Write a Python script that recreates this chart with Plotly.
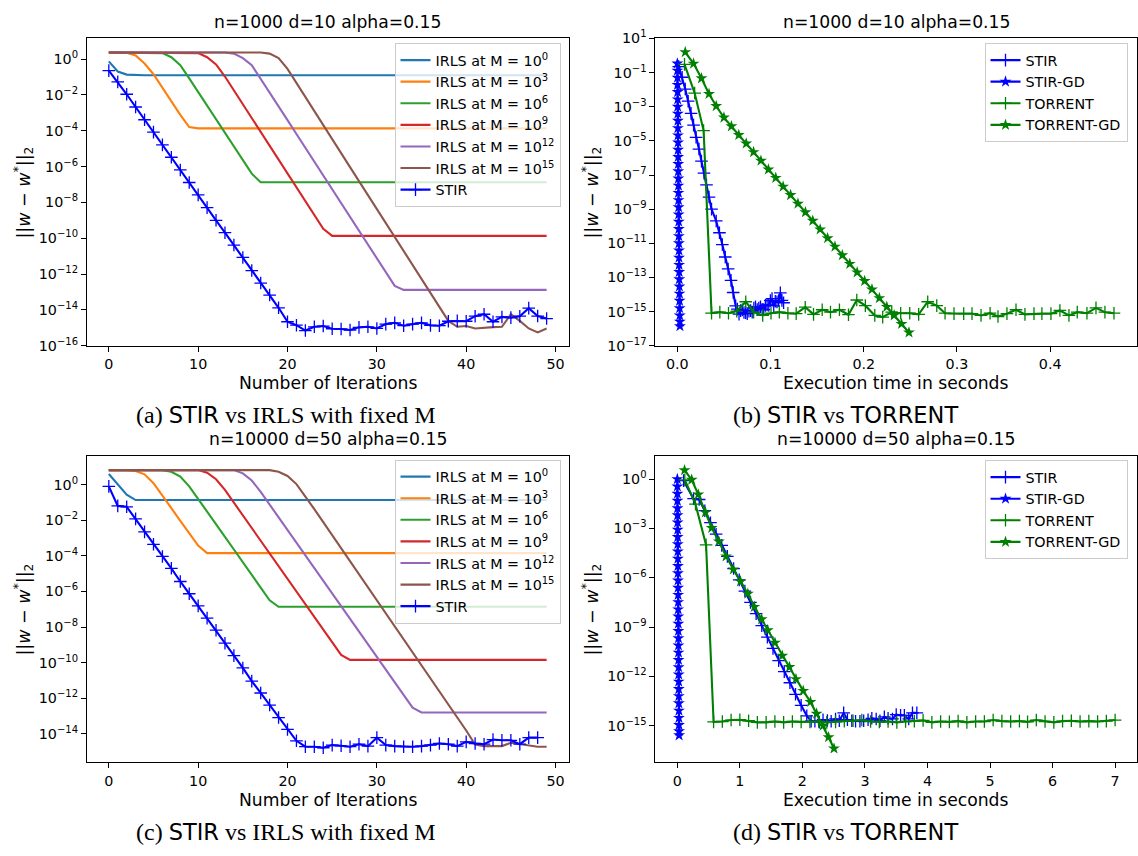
import plotly.graph_objects as go

# ---------------------------------------------------------------------------
# Panel (a): n=1000, d=10 -- error vs iteration for IRLS with fixed M and STIR
# ---------------------------------------------------------------------------
iters_a = list(range(50))

a_irls_m0 = [0.74, 0.20, 0.135, 0.123, 0.123, 0.123, 0.123, 0.123, 0.123, 0.123,
             0.123, 0.123, 0.123, 0.123, 0.123, 0.123, 0.123, 0.123, 0.123, 0.123,
             0.123, 0.123, 0.123, 0.123, 0.123, 0.123, 0.123, 0.123, 0.123, 0.123,
             0.123, 0.123, 0.123, 0.123, 0.123, 0.123, 0.123, 0.123, 0.123, 0.123,
             0.123, 0.123, 0.123, 0.123, 0.123, 0.123, 0.123, 0.123, 0.123, 0.123]
a_irls_m3 = [2.31, 2.31, 2.25, 1.58, 0.56, 0.141, 0.0245, 4.37e-3, 7.6e-4, 1.58e-4,
             1.35e-4, 1.35e-4, 1.35e-4, 1.35e-4, 1.35e-4, 1.35e-4, 1.35e-4, 1.35e-4, 1.35e-4, 1.35e-4,
             1.35e-4, 1.35e-4, 1.35e-4, 1.35e-4, 1.35e-4, 1.35e-4, 1.35e-4, 1.35e-4, 1.35e-4, 1.35e-4,
             1.35e-4, 1.35e-4, 1.35e-4, 1.35e-4, 1.35e-4, 1.35e-4, 1.35e-4, 1.35e-4, 1.35e-4, 1.35e-4,
             1.35e-4, 1.35e-4, 1.35e-4, 1.35e-4, 1.35e-4, 1.35e-4, 1.35e-4, 1.35e-4, 1.35e-4, 1.35e-4]
a_irls_m6 = [2.31, 2.31, 2.31, 2.31, 2.31, 2.31, 2.14, 1.26, 0.447, 0.083,
             0.0145, 2.5e-3, 4.4e-4, 7.6e-5, 1.32e-5, 2.3e-6, 4.0e-7, 1.32e-7, 1.32e-7, 1.32e-7,
             1.32e-7, 1.32e-7, 1.32e-7, 1.32e-7, 1.32e-7, 1.32e-7, 1.32e-7, 1.32e-7, 1.32e-7, 1.32e-7,
             1.32e-7, 1.32e-7, 1.32e-7, 1.32e-7, 1.32e-7, 1.32e-7, 1.32e-7, 1.32e-7, 1.32e-7, 1.32e-7,
             1.32e-7, 1.32e-7, 1.32e-7, 1.32e-7, 1.32e-7, 1.32e-7, 1.32e-7, 1.32e-7, 1.32e-7, 1.32e-7]
a_irls_m9 = [2.31, 2.31, 2.31, 2.31, 2.31, 2.31, 2.31, 2.31, 2.31, 2.31,
             2.14, 1.26, 0.5, 0.105, 0.0178, 3.0e-3, 5.0e-4, 8.5e-5, 1.41e-5, 2.4e-6,
             4.0e-7, 6.8e-8, 1.12e-8, 1.9e-9, 3.4e-10, 1.35e-10, 1.35e-10, 1.35e-10, 1.35e-10, 1.35e-10,
             1.35e-10, 1.35e-10, 1.35e-10, 1.35e-10, 1.35e-10, 1.35e-10, 1.35e-10, 1.35e-10, 1.35e-10, 1.35e-10,
             1.35e-10, 1.35e-10, 1.35e-10, 1.35e-10, 1.35e-10, 1.35e-10, 1.35e-10, 1.35e-10, 1.35e-10, 1.35e-10]
a_irls_m12 = [2.31, 2.31, 2.31, 2.31, 2.31, 2.31, 2.31, 2.31, 2.31, 2.31,
              2.31, 2.31, 2.31, 2.31, 2.0, 1.12, 0.447, 0.079, 0.0135, 2.3e-3,
              3.9e-4, 6.5e-5, 1.1e-5, 1.86e-6, 3.1e-7, 5.2e-8, 8.9e-9, 1.48e-9, 2.5e-10, 4.3e-11,
              7.1e-12, 1.2e-12, 2.2e-13, 1.32e-13, 1.32e-13, 1.32e-13, 1.32e-13, 1.32e-13, 1.32e-13, 1.32e-13,
              1.32e-13, 1.32e-13, 1.32e-13, 1.32e-13, 1.32e-13, 1.32e-13, 1.32e-13, 1.32e-13, 1.32e-13, 1.32e-13]
a_irls_m15 = [2.31, 2.31, 2.31, 2.31, 2.31, 2.31, 2.31, 2.31, 2.31, 2.31,
              2.31, 2.31, 2.31, 2.31, 2.31, 2.31, 2.31, 2.31, 2.0, 1.12,
              0.28, 0.045, 7.4e-3, 1.23e-3, 2.0e-4, 3.4e-5, 5.6e-6, 9.3e-7, 1.55e-7, 2.6e-8,
              4.3e-9, 7.1e-10, 1.17e-10, 1.95e-11, 3.2e-12, 5.4e-13, 8.9e-14, 1.48e-14, 2.45e-15, 1.15e-15,
              1.26e-15, 9.3e-16, 1.06e-15, 1.1e-15, 1.15e-15, 5.7e-15, 2.45e-15, 9.3e-16, 5.6e-16, 9.3e-16]
a_stir = [2.24e-1, 5.31e-2, 1.08e-2, 2.10e-3, 4.09e-4, 8.3e-5, 1.62e-5, 3.31e-6, 6.46e-7, 1.29e-7,
          2.63e-8, 5.13e-9, 1.0e-9, 2.04e-10, 4.17e-11, 8.5e-12, 1.58e-12, 3.16e-13, 6.76e-14, 1.32e-14,
          2.19e-15, 1.41e-15, 7.1e-16, 1.15e-15, 1.26e-15, 8.9e-16, 8.7e-16, 7.6e-16, 1.07e-15, 1.15e-15,
          9.3e-16, 1.62e-15, 1.91e-15, 1.32e-15, 1.62e-15, 1.91e-15, 1.38e-15, 1.32e-15, 2.34e-15, 2.45e-15,
          2.34e-15, 4.47e-15, 5.75e-15, 2.19e-15, 4.07e-15, 3.72e-15, 4.47e-15, 1.26e-14, 4.57e-15, 3.31e-15]

# ---------------------------------------------------------------------------
# Panel (b): n=1000, d=10 -- error vs wall-clock time (STIR reuses a_stir)
# ---------------------------------------------------------------------------
b_stir_t = [0.0015, 0.0052, 0.0085, 0.0116, 0.0147, 0.0174, 0.0201, 0.0232, 0.0259, 0.0286,
            0.0313, 0.0340, 0.0367, 0.0417, 0.0452, 0.0483, 0.0514, 0.0545, 0.0576, 0.0599,
            0.0626, 0.0644, 0.0662, 0.0679, 0.0697, 0.0715, 0.0733, 0.0750, 0.0768, 0.0786,
            0.0803, 0.0821, 0.0839, 0.0857, 0.0874, 0.0892, 0.0910, 0.0927, 0.0945, 0.0963,
            0.0981, 0.0998, 0.1016, 0.1034, 0.1051, 0.1069, 0.1087, 0.1105, 0.1122, 0.1140]
b_stirgd_t = [0.0000, 0.0001, 0.0002, 0.0002, 0.0003, 0.0004, 0.0004, 0.0005, 0.0006, 0.0006,
              0.0007, 0.0008, 0.0008, 0.0009, 0.0010, 0.0010, 0.0011, 0.0012, 0.0012, 0.0013,
              0.0014, 0.0014, 0.0015, 0.0016, 0.0016, 0.0017, 0.0018, 0.0018, 0.0019, 0.0020,
              0.0021, 0.0022, 0.0023, 0.0024, 0.0025, 0.0026, 0.0027, 0.0028]
b_stirgd = [0.34, 0.13, 0.050, 0.019, 7.2e-3, 2.7e-3, 1.0e-3, 3.9e-4, 1.5e-4, 5.6e-5,
            2.1e-5, 8.0e-6, 3.0e-6, 1.15e-6, 4.4e-7, 1.65e-7, 6.2e-8, 2.4e-8, 9.0e-9, 3.4e-9,
            1.3e-9, 4.9e-10, 1.85e-10, 7.0e-11, 2.65e-11, 1.0e-11, 3.8e-12, 1.45e-12, 5.5e-13, 2.1e-13,
            7.9e-14, 3.0e-14, 1.14e-14, 4.3e-15, 1.6e-15, 6.0e-16, 2.6e-16, 1.4e-16]
b_torrent_t = [0.0077, 0.0186, 0.0282, 0.0367, 0.0456, 0.0549, 0.0638, 0.0734, 0.0819, 0.0916,
               0.1005, 0.1094, 0.1186, 0.1275, 0.1372, 0.1461, 0.1554, 0.1643, 0.1739, 0.1836,
               0.1925, 0.2017, 0.2118, 0.2203, 0.2300, 0.2396, 0.2493, 0.2589, 0.2686, 0.2783,
               0.2872, 0.2968, 0.3072, 0.3161, 0.3258, 0.3355, 0.3440, 0.3536, 0.3633, 0.3729,
               0.3826, 0.3911, 0.4008, 0.4104, 0.4201, 0.4290, 0.4394, 0.4491, 0.4587, 0.4684]
b_torrent = [0.30, 6.3e-3, 4.0e-5, 8.1e-16, 9.3e-16, 8.1e-16, 1.07e-15, 3.8e-15, 9.3e-16, 6.0e-16,
             8.1e-16, 9.3e-16, 8.1e-16, 7.6e-16, 1.82e-15, 6.9e-16, 1.29e-15, 9.3e-16, 1.29e-15, 6.6e-16,
             4.8e-15, 2.24e-15, 6.0e-16, 4.8e-16, 9.3e-16, 8.1e-16, 8.1e-16, 6.9e-16, 3.8e-15, 2.24e-15,
             8.1e-16, 7.6e-16, 7.6e-16, 7.6e-16, 6.0e-16, 8.1e-16, 5.2e-16, 7.6e-16, 1.29e-15, 6.9e-16,
             7.6e-16, 7.6e-16, 7.6e-16, 1.17e-15, 6.0e-16, 9.3e-16, 8.1e-16, 1.66e-15, 9.3e-16, 8.1e-16]
b_torrentgd_t = [0.0085, 0.0174, 0.0259, 0.0340, 0.0417, 0.0500, 0.0580, 0.0659, 0.0739, 0.0818,
                 0.0897, 0.0977, 0.1056, 0.1135, 0.1215, 0.1294, 0.1374, 0.1453, 0.1532, 0.1612,
                 0.1691, 0.1770, 0.1850, 0.1929, 0.2009, 0.2088, 0.2167, 0.2247, 0.2326, 0.2405,
                 0.2485]
b_torrentgd = [1.57, 0.335, 0.0461, 5.6e-3, 1.09e-3, 2.32e-4, 7.1e-5, 2.2e-5, 7.0e-6, 2.2e-6,
               6.9e-7, 2.1e-7, 6.8e-8, 2.1e-8, 6.7e-9, 2.1e-9, 6.6e-10, 2.1e-10, 6.5e-11, 2.0e-11,
               6.4e-12, 2.0e-12, 6.3e-13, 2.0e-13, 6.2e-14, 2.0e-14, 6.2e-15, 1.9e-15, 6.1e-16, 1.9e-16,
               6.0e-17]

# ---------------------------------------------------------------------------
# Panel (c): n=10000, d=50 -- error vs iteration
# ---------------------------------------------------------------------------
iters_c = list(range(50))
iters_c_stir = list(range(49))

c_irls_m0 = [4.0, 1.12, 0.28, 0.138, 0.138, 0.138, 0.138, 0.138, 0.138, 0.138,
             0.138, 0.138, 0.138, 0.138, 0.138, 0.138, 0.138, 0.138, 0.138, 0.138,
             0.138, 0.138, 0.138, 0.138, 0.138, 0.138, 0.138, 0.138, 0.138, 0.138,
             0.138, 0.138, 0.138, 0.138, 0.138, 0.138, 0.138, 0.138, 0.138, 0.138,
             0.138, 0.138, 0.138, 0.138, 0.138, 0.138, 0.138, 0.138, 0.138, 0.138]
c_irls_m3 = [6.67, 6.67, 6.67, 5.9, 3.85, 1.23, 0.26, 0.048, 9.3e-3, 1.73e-3,
             3.8e-4, 1.43e-4, 1.43e-4, 1.43e-4, 1.43e-4, 1.43e-4, 1.43e-4, 1.43e-4, 1.43e-4, 1.43e-4,
             1.43e-4, 1.43e-4, 1.43e-4, 1.43e-4, 1.43e-4, 1.43e-4, 1.43e-4, 1.43e-4, 1.43e-4, 1.43e-4,
             1.43e-4, 1.43e-4, 1.43e-4, 1.43e-4, 1.43e-4, 1.43e-4, 1.43e-4, 1.43e-4, 1.43e-4, 1.43e-4,
             1.43e-4, 1.43e-4, 1.43e-4, 1.43e-4, 1.43e-4, 1.43e-4, 1.43e-4, 1.43e-4, 1.43e-4, 1.43e-4]
c_irls_m6 = [6.67, 6.67, 6.67, 6.67, 6.67, 6.67, 6.67, 5.4, 2.87, 0.81,
             0.163, 0.0316, 6.1e-3, 1.18e-3, 2.28e-4, 4.4e-5, 8.5e-6, 1.65e-6, 3.18e-7, 1.37e-7,
             1.37e-7, 1.37e-7, 1.37e-7, 1.37e-7, 1.37e-7, 1.37e-7, 1.37e-7, 1.37e-7, 1.37e-7, 1.37e-7,
             1.37e-7, 1.37e-7, 1.37e-7, 1.37e-7, 1.37e-7, 1.37e-7, 1.37e-7, 1.37e-7, 1.37e-7, 1.37e-7,
             1.37e-7, 1.37e-7, 1.37e-7, 1.37e-7, 1.37e-7, 1.37e-7, 1.37e-7, 1.37e-7, 1.37e-7, 1.37e-7]
c_irls_m9 = [6.67, 6.67, 6.67, 6.67, 6.67, 6.67, 6.67, 6.67, 6.67, 6.67,
             6.67, 4.75, 2.05, 0.51, 0.0985, 0.019, 3.68e-3, 7.1e-4, 1.38e-4, 2.66e-5,
             5.1e-6, 9.9e-7, 1.92e-7, 3.7e-8, 7.2e-9, 1.39e-9, 2.68e-10, 1.42e-10, 1.42e-10, 1.42e-10,
             1.42e-10, 1.42e-10, 1.42e-10, 1.42e-10, 1.42e-10, 1.42e-10, 1.42e-10, 1.42e-10, 1.42e-10, 1.42e-10,
             1.42e-10, 1.42e-10, 1.42e-10, 1.42e-10, 1.42e-10, 1.42e-10, 1.42e-10, 1.42e-10, 1.42e-10, 1.42e-10]
c_irls_m12 = [6.67, 6.67, 6.67, 6.67, 6.67, 6.67, 6.67, 6.67, 6.67, 6.67,
              6.67, 6.67, 6.67, 6.67, 6.67, 4.37, 1.73, 0.396, 0.0765, 0.0148,
              2.86e-3, 5.5e-4, 1.07e-4, 2.06e-5, 3.99e-6, 7.7e-7, 1.49e-7, 2.88e-8, 5.6e-9, 1.08e-9,
              2.08e-10, 4.0e-11, 7.8e-12, 1.5e-12, 2.9e-13, 1.55e-13, 1.55e-13, 1.55e-13, 1.55e-13, 1.55e-13,
              1.55e-13, 1.55e-13, 1.55e-13, 1.55e-13, 1.55e-13, 1.55e-13, 1.55e-13, 1.55e-13, 1.55e-13, 1.55e-13]
c_irls_m15 = [6.67, 6.67, 6.67, 6.67, 6.67, 6.67, 6.67, 6.67, 6.67, 6.67,
              6.67, 6.67, 6.67, 6.67, 6.67, 6.67, 6.67, 6.67, 6.67, 5.4,
              3.12, 1.09, 0.229, 0.0424, 7.86e-3, 1.46e-3, 2.7e-4, 5.0e-5, 9.27e-6, 1.72e-6,
              3.18e-7, 5.9e-8, 1.09e-8, 2.03e-9, 3.76e-10, 6.97e-11, 1.29e-11, 2.39e-12, 4.43e-13, 8.2e-14,
              1.52e-14, 2.48e-15, 2.01e-15, 2.01e-15, 2.01e-15, 3.07e-15, 2.59e-15, 2.1e-15, 1.85e-15, 1.85e-15]
c_stir = [0.81, 0.0646, 0.0575, 0.012, 2.24e-3, 4.47e-4, 9.3e-5, 2.0e-5, 3.63e-6, 7.4e-7,
          1.55e-7, 3.16e-8, 6.6e-9, 1.23e-9, 2.45e-10, 5.0e-11, 9.1e-12, 1.95e-12, 4.1e-13, 8.1e-14,
          1.74e-14, 4.0e-15, 1.86e-15, 1.86e-15, 1.62e-15, 2.29e-15, 2.09e-15, 1.86e-15, 2.57e-15, 2.0e-15,
          6.0e-15, 2.29e-15, 2.0e-15, 1.86e-15, 1.86e-15, 2.0e-15, 2.29e-15, 2.82e-15, 2.57e-15, 2.0e-15,
          3.47e-15, 2.82e-15, 2.57e-15, 4.68e-15, 4.27e-15, 4.27e-15, 2.57e-15, 6.0e-15, 6.0e-15]

# ---------------------------------------------------------------------------
# Panel (d): n=10000, d=50 -- error vs wall-clock time (STIR reuses c_stir)
# ---------------------------------------------------------------------------
d_stir_t = [0.10, 0.26, 0.35, 0.44, 0.53, 0.62, 0.71, 0.80, 0.90, 0.99,
            1.08, 1.17, 1.26, 1.35, 1.44, 1.53, 1.62, 1.71, 1.80, 1.89,
            1.98, 2.07, 2.14, 2.20, 2.27, 2.33, 2.40, 2.46, 2.53, 2.59,
            2.66, 2.72, 2.79, 2.85, 2.92, 2.98, 3.05, 3.11, 3.18, 3.24,
            3.31, 3.37, 3.44, 3.50, 3.57, 3.63, 3.70, 3.76, 3.83]
d_stirgd_t = [0.000, 0.001, 0.002, 0.002, 0.003, 0.004, 0.005, 0.006, 0.006, 0.007,
              0.008, 0.009, 0.010, 0.010, 0.011, 0.012, 0.013, 0.014, 0.014, 0.015,
              0.016, 0.017, 0.018, 0.018, 0.019, 0.020, 0.021, 0.022, 0.022, 0.023,
              0.024, 0.025, 0.026, 0.026, 0.027, 0.028, 0.029]
d_stirgd = [1.0, 0.36, 0.13, 0.048, 0.017, 6.3e-3, 2.3e-3, 8.3e-4, 3.0e-4, 1.1e-4,
            4.0e-5, 1.45e-5, 5.2e-6, 1.9e-6, 6.9e-7, 2.5e-7, 9.1e-8, 3.3e-8, 1.2e-8, 4.4e-9,
            1.6e-9, 5.8e-10, 2.1e-10, 7.6e-11, 2.8e-11, 1.0e-11, 3.6e-12, 1.3e-12, 4.8e-13, 1.7e-13,
            6.3e-14, 2.3e-14, 8.3e-15, 3.0e-15, 1.1e-15, 4.6e-16, 2.6e-16]
d_torrent_t = [0.12, 0.29, 0.46, 0.58, 0.72, 0.86, 1.00, 1.14, 1.28, 1.42,
               1.56, 1.70, 1.84, 1.98, 2.12, 2.26, 2.39, 2.53, 2.67, 2.81,
               2.95, 3.09, 3.23, 3.37, 3.51, 3.65, 3.79, 3.93, 4.07, 4.21,
               4.35, 4.49, 4.63, 4.77, 4.91, 5.05, 5.19, 5.33, 5.47, 5.60,
               5.74, 5.88, 6.02, 6.16, 6.30, 6.44, 6.58, 6.72, 6.86, 7.00]
d_torrent = [0.9, 0.03, 1.0e-4, 1.7e-15, 1.8e-15, 2.2e-15, 2.3e-15, 2.0e-15, 1.6e-15, 1.6e-15,
             1.8e-15, 1.6e-15, 1.8e-15, 1.7e-15, 1.7e-15, 1.8e-15, 1.6e-15, 1.7e-15, 1.9e-15, 2.0e-15,
             2.2e-15, 1.8e-15, 1.7e-15, 1.8e-15, 1.6e-15, 1.8e-15, 1.9e-15, 2.1e-15, 1.6e-15, 1.8e-15,
             1.7e-15, 1.9e-15, 1.6e-15, 1.8e-15, 1.8e-15, 2.2e-15, 1.9e-15, 1.8e-15, 1.9e-15, 1.7e-15,
             2.2e-15, 1.8e-15, 1.6e-15, 1.9e-15, 2.0e-15, 1.8e-15, 1.9e-15, 1.8e-15, 1.9e-15, 2.2e-15]
d_torrentgd_t = [0.116, 0.23, 0.336, 0.45, 0.55, 0.665, 0.78, 0.897, 1.01, 1.128,
                 1.232, 1.348, 1.446, 1.562, 1.678, 1.793, 1.897, 2.013, 2.129, 2.227,
                 2.331, 2.418, 2.505]
d_torrentgd = [3.5, 0.91, 0.117, 9.5e-3, 1.07e-3, 1.6e-4, 2.0e-5, 3.2e-6, 6.0e-7, 1.07e-7,
               1.7e-8, 3.0e-9, 6.5e-10, 1.12e-10, 1.8e-11, 3.7e-12, 6.8e-13, 1.32e-13, 2.8e-14, 5.4e-15,
               1.0e-15, 2.0e-16, 4.1e-17]

# tick positions
iter_ticks = [0, 10, 20, 30, 40, 50]
time_ticks_b = [0.0, 0.1, 0.2, 0.3, 0.4]
time_ticks_d = [0, 1, 2, 3, 4, 5, 6, 7]
exp_ticks_a = [0, -2, -4, -6, -8, -10, -12, -14, -16]
exp_ticks_b = [1, -1, -3, -5, -7, -9, -11, -13, -15, -17]
exp_ticks_c = [0, -2, -4, -6, -8, -10, -12, -14]
exp_ticks_d = [0, -3, -6, -9, -12, -15]

irls_labels = ["IRLS at M = 10<sup>0</sup>", "IRLS at M = 10<sup>3</sup>",
               "IRLS at M = 10<sup>6</sup>", "IRLS at M = 10<sup>9</sup>",
               "IRLS at M = 10<sup>12</sup>", "IRLS at M = 10<sup>15</sup>"]
irls_colors = ["#1f77b4", "#ff7f0e", "#2ca02c", "#d62728", "#9467bd", "#8c564b"]

for arr in (a_irls_m0, a_irls_m3, a_irls_m6, a_irls_m9, a_irls_m12, a_irls_m15, a_stir,
            c_irls_m0, c_irls_m3, c_irls_m6, c_irls_m9, c_irls_m12, c_irls_m15):
    assert len(arr) == 50
assert len(c_stir) == 49 and len(d_stir_t) == 49
assert len(b_stirgd_t) == len(b_stirgd)
assert len(b_torrent_t) == len(b_torrent) == 50
assert len(b_torrentgd_t) == len(b_torrentgd)
assert len(d_stirgd_t) == len(d_stirgd)
assert len(d_torrent_t) == len(d_torrent)
assert len(d_torrentgd_t) == len(d_torrentgd)

# ---------------------------------------------------------------------------
# Figure geometry (pixels)
# ---------------------------------------------------------------------------
W, H = 1138, 856
SANS = "DejaVu Sans"
SERIF = "Liberation Serif"
FS = 14.3      # tick and legend text
FL = 17.2      # titles and axis labels
LW = 2.1
BLUE = "#0000ff"
GREEN = "#008000"


def fx(p):
    return p / W


def fy(p):
    return 1 - p / H


LEFT = (87, 569)
RIGHT = (656, 1138)
TOP = (29, 343)
BOTTOM = (455.7, 768.5)


def sup_text(e):
    return "10<sup>%s</sup>" % (str(e).replace("-", "\u2212"))


def x_axis(cols, rng, ticks, ticktext, anchor):
    return dict(domain=[fx(cols[0]), fx(cols[1])], range=rng, anchor=anchor,
                tickmode="array", tickvals=ticks, ticktext=ticktext,
                showline=True, linecolor="black", linewidth=1.1, mirror=True,
                ticks="outside", ticklen=5, tickwidth=1.1, tickcolor="black",
                showgrid=False, zeroline=False,
                tickfont=dict(family=SANS, size=FS, color="black"))


def y_axis(rows, rng, exps, anchor):
    return dict(domain=[fy(rows[1]), fy(rows[0])], range=rng, type="log", anchor=anchor,
                tickmode="array", tickvals=[10.0 ** e for e in exps],
                ticktext=[sup_text(e) for e in exps],
                showline=True, linecolor="black", linewidth=1.1, mirror=True,
                ticks="outside", ticklen=5, tickwidth=1.1, tickcolor="black",
                showgrid=False, zeroline=False,
                tickfont=dict(family=SANS, size=FS, color="black"))


def legend_box(right_px, top_px):
    return dict(x=fx(right_px), y=fy(top_px), xanchor="right", yanchor="top",
                bgcolor="rgba(255,255,255,0.8)", bordercolor="#cccccc", borderwidth=1,
                font=dict(family=SANS, size=FS, color="black"), itemwidth=30,
                traceorder="normal")


def cross(c):
    return dict(symbol="cross-thin", size=9, color=c, line=dict(width=1.3, color=c))


def star(c):
    return dict(symbol="star", size=9, color=c, line=dict(width=0))


fig = go.Figure()

# panel (a)
for ys, name, col in zip([a_irls_m0, a_irls_m3, a_irls_m6, a_irls_m9, a_irls_m12, a_irls_m15],
                         irls_labels, irls_colors):
    fig.add_trace(go.Scatter(x=iters_a, y=ys, mode="lines", name=name,
                             line=dict(color=col, width=LW), xaxis="x", yaxis="y", legend="legend"))
fig.add_trace(go.Scatter(x=iters_a, y=a_stir, mode="lines+markers", name="STIR",
                         line=dict(color=BLUE, width=LW), marker=cross(BLUE),
                         xaxis="x", yaxis="y", legend="legend"))

# panel (b)
fig.add_trace(go.Scatter(x=b_stir_t, y=a_stir, mode="lines+markers", name="STIR",
                         line=dict(color=BLUE, width=LW), marker=cross(BLUE),
                         xaxis="x2", yaxis="y2", legend="legend2"))
fig.add_trace(go.Scatter(x=b_stirgd_t, y=b_stirgd, mode="lines+markers", name="STIR-GD",
                         line=dict(color=BLUE, width=LW), marker=star(BLUE),
                         xaxis="x2", yaxis="y2", legend="legend2"))
fig.add_trace(go.Scatter(x=b_torrent_t, y=b_torrent, mode="lines+markers", name="TORRENT",
                         line=dict(color=GREEN, width=LW), marker=cross(GREEN),
                         xaxis="x2", yaxis="y2", legend="legend2"))
fig.add_trace(go.Scatter(x=b_torrentgd_t, y=b_torrentgd, mode="lines+markers", name="TORRENT-GD",
                         line=dict(color=GREEN, width=LW), marker=star(GREEN),
                         xaxis="x2", yaxis="y2", legend="legend2"))

# panel (c)
for ys, name, col in zip([c_irls_m0, c_irls_m3, c_irls_m6, c_irls_m9, c_irls_m12, c_irls_m15],
                         irls_labels, irls_colors):
    fig.add_trace(go.Scatter(x=iters_c, y=ys, mode="lines", name=name,
                             line=dict(color=col, width=LW), xaxis="x3", yaxis="y3", legend="legend3"))
fig.add_trace(go.Scatter(x=iters_c_stir, y=c_stir, mode="lines+markers", name="STIR",
                         line=dict(color=BLUE, width=LW), marker=cross(BLUE),
                         xaxis="x3", yaxis="y3", legend="legend3"))

# panel (d)
fig.add_trace(go.Scatter(x=d_stir_t, y=c_stir, mode="lines+markers", name="STIR",
                         line=dict(color=BLUE, width=LW), marker=cross(BLUE),
                         xaxis="x4", yaxis="y4", legend="legend4"))
fig.add_trace(go.Scatter(x=d_stirgd_t, y=d_stirgd, mode="lines+markers", name="STIR-GD",
                         line=dict(color=BLUE, width=LW), marker=star(BLUE),
                         xaxis="x4", yaxis="y4", legend="legend4"))
fig.add_trace(go.Scatter(x=d_torrent_t, y=d_torrent, mode="lines+markers", name="TORRENT",
                         line=dict(color=GREEN, width=LW), marker=cross(GREEN),
                         xaxis="x4", yaxis="y4", legend="legend4"))
fig.add_trace(go.Scatter(x=d_torrentgd_t, y=d_torrentgd, mode="lines+markers", name="TORRENT-GD",
                         line=dict(color=GREEN, width=LW), marker=star(GREEN),
                         xaxis="x4", yaxis="y4", legend="legend4"))

iter_text = [str(v) for v in iter_ticks]
fig.update_layout(
    width=W, height=H, autosize=False,
    margin=dict(l=0, r=0, t=0, b=0),
    paper_bgcolor="white", plot_bgcolor="white",
    showlegend=True,
    xaxis=x_axis(LEFT, [-2.45, 51.45], iter_ticks, iter_text, "y"),
    yaxis=y_axis(TOP, [-16.0, 1.15], exp_ticks_a, "x"),
    xaxis2=x_axis(RIGHT, [-0.0235, 0.4931], time_ticks_b, ["%.1f" % v for v in time_ticks_b], "y2"),
    yaxis2=y_axis(TOP, [-17.0, 1.0], exp_ticks_b, "x2"),
    xaxis3=x_axis(LEFT, [-2.45, 51.45], iter_ticks, iter_text, "y3"),
    yaxis3=y_axis(BOTTOM, [-15.61, 1.61], exp_ticks_c, "x3"),
    xaxis4=x_axis(RIGHT, [-0.35, 7.35], time_ticks_d, [str(v) for v in time_ticks_d], "y4"),
    yaxis4=y_axis(BOTTOM, [-17.23, 1.40], exp_ticks_d, "x4"),
    legend=legend_box(561, 34),
    legend2=legend_box(1128.5, 34),
    legend3=legend_box(561, 459.5),
    legend4=legend_box(1128.5, 460),
)

ylabel = "||<i>w</i> \u2212 <i>w</i><sup>*</sup>||<sub>2</sub>"
annotations = []


def label(text, x, y, size, family=SANS, angle=0):
    annotations.append(dict(text=text, x=fx(x), y=fy(y), xref="paper", yref="paper",
                            xanchor="center", yanchor="middle", showarrow=False,
                            textangle=angle, font=dict(family=family, size=size, color="black")))


# panel titles
label("n=1000 d=10 alpha=0.15", 328, 12, FL)
label("n=1000 d=10 alpha=0.15", 897, 12, FL)
label("n=10000 d=50 alpha=0.15", 328, 438.5, FL)
label("n=10000 d=50 alpha=0.15", 897, 438.5, FL)
# axis titles
label("Number of Iterations", 328, 381.5, FL)
label("Execution time in seconds", 897, 381.5, FL)
label("Number of Iterations", 328, 807, FL)
label("Execution time in seconds", 897, 807, FL)
label(ylabel, 23.5, 186, 17.5, angle=-90)
label(ylabel, 592, 186, 17.5, angle=-90)
label(ylabel, 23.5, 612, 17.5, angle=-90)
label(ylabel, 592, 612, 17.5, angle=-90)
# sub-figure captions
sf = '<span style="font-family:DejaVu Sans;font-size:22.5px">%s</span>'
label("(a) " + sf % "STIR" + " vs IRLS with fixed M", 286, 414, 24, family=SERIF)
label("(b) " + sf % "STIR" + " vs " + sf % "TORRENT", 846, 414, 24, family=SERIF)
label("(c) " + sf % "STIR" + " vs IRLS with fixed M", 286, 840, 24, family=SERIF)
label("(d) " + sf % "STIR" + " vs " + sf % "TORRENT", 846, 840, 24, family=SERIF)

fig.update_layout(annotations=annotations)
fig.write_html("out.html")
